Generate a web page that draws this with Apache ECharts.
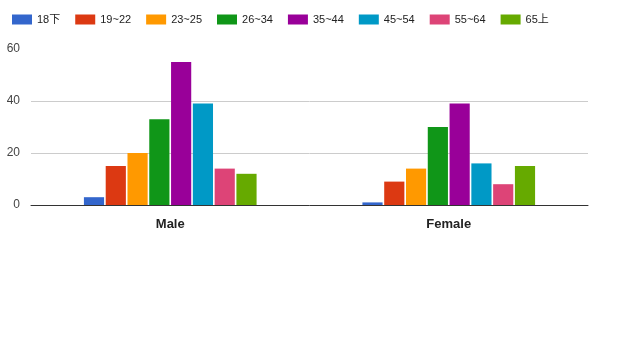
<!DOCTYPE html>
<html>
<head>
<meta charset="utf-8">
<script src="https://cdn.jsdelivr.net/npm/echarts@6/dist/echarts.min.js"></script>
<style>
  html, body { margin: 0; padding: 0; background: #fff; }
  #main { width: 621px; height: 353px; }
</style>
</head>
<body>
<div id="main"></div>
<script>
var genders = ['Male', 'Female'];
var ageGroups = ['18下', '19~22', '23~25', '26~34', '35~44', '45~54', '55~64', '65上'];
var maleCounts = [3, 15, 20, 33, 55, 39, 14, 12];
var femaleCounts = [1, 9, 14, 30, 39, 16, 8, 15];
var yTicks = [0, 20, 40, 60];
var colors = ['#3366cc', '#dc3912', '#ff9900', '#109618', '#990099', '#0099c6', '#dd4477', '#66aa00'];

var dom = document.getElementById('main');
var myChart = echarts.init(dom);

var series = ageGroups.map(function (name, i) {
  return {
    name: name,
    type: 'bar',
    barGap: '8%',
    barCategoryGap: '38%',
    itemStyle: { color: colors[i] },
    data: [maleCounts[i], femaleCounts[i]]
  };
});

var option = {
  color: colors,
  textStyle: { fontFamily: 'Liberation Sans, Arial, Noto Sans CJK SC, sans-serif' },
  legend: {
    left: 7,
    top: 9,
    itemWidth: 20,
    itemHeight: 10,
    itemGap: 15,
    icon: 'rect',
    textStyle: { fontSize: 11, color: '#222' },
    data: ageGroups
  },
  grid: { left: 31, right: 33, top: 49, bottom: 148 },
  xAxis: {
    type: 'category',
    data: genders,
    axisTick: { show: false },
    axisLine: { lineStyle: { color: '#333', width: 1 } },
    axisLabel: { margin: 13, fontSize: 13, color: '#222', fontWeight: 'bold' }
  },
  yAxis: {
    type: 'value',
    min: yTicks[0],
    max: yTicks[yTicks.length - 1],
    interval: 20,
    axisLine: { show: false },
    axisTick: { show: false },
    axisLabel: { fontSize: 12, color: '#444', margin: 11 },
    // no line at the top tick, like the original
    splitLine: { lineStyle: { color: ['#ccc', '#ccc', '#ccc', 'rgba(0,0,0,0)'] } }
  },
  series: series
};

if (option && typeof option === 'object') {
  myChart.setOption(option, true);
}
</script>
</body>
</html>
